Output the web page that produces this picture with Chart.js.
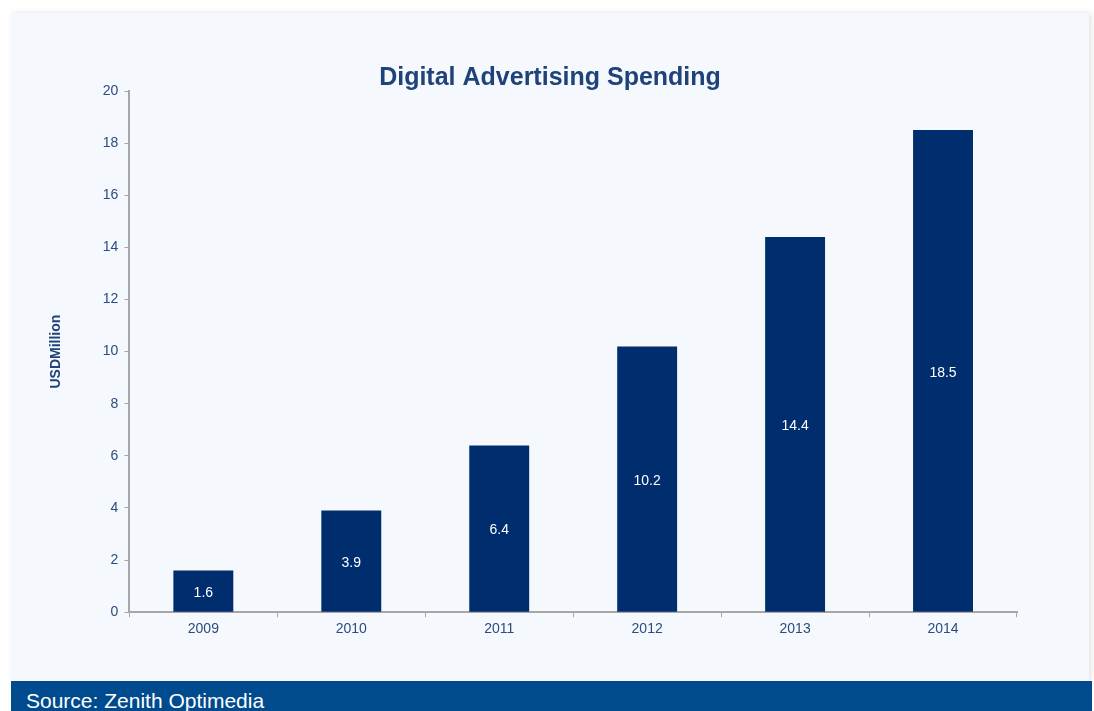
<!DOCTYPE html>
<html>
<head>
<meta charset="utf-8">
<script src="https://cdn.jsdelivr.net/npm/chart.js@4/dist/chart.umd.min.js"></script>
<style>
  html, body { margin: 0; padding: 0; background: #ffffff; width: 1094px; height: 711px; overflow: hidden; }
  #card {
    position: absolute; left: 11px; top: 13px; width: 1078px; height: 668px;
    background: #f5f9fd;
    box-shadow: 2px 0 6px rgba(0,0,0,0.12);
  }
  #footer {
    position: absolute; left: 11px; top: 681px; width: 1081px; height: 30px;
    background: #004b8d; color: #ffffff;
    font-family: "Liberation Sans", Arial, sans-serif; font-size: 21px;
    line-height: 40px; padding-left: 15px; box-sizing: border-box; overflow: hidden;
  }
  #chart { display: block; }
</style>
</head>
<body>
<div id="card"><canvas id="chart" width="1078" height="668"></canvas></div>
<div id="footer">Source: Zenith Optimedia</div>
<script>
// ============================
// Dados
// ============================
const anos = ["2009", "2010", "2011", "2012", "2013", "2014"];
const gastos = [1.6, 3.9, 6.4, 10.2, 14.4, 18.5];
const yTicks = [0, 2, 4, 6, 8, 10, 12, 14, 16, 18, 20];
const titulo = "Digital Advertising Spending";

const FONTE = "'Liberation Sans', Arial, Helvetica, sans-serif";
const AZUL_TEXTO = "#2c4b80";
const CINZA_EIXO = "#a6a6a6";

// título centralizado no cartão inteiro (não só na área do gráfico)
const tituloCentral = {
  id: "tituloCentral",
  afterDraw(chart) {
    const ctx = chart.ctx;
    ctx.save();
    ctx.fillStyle = "#1f4279";
    ctx.font = "bold 25px " + FONTE;
    ctx.textAlign = "center";
    ctx.textBaseline = "middle";
    ctx.fillText(titulo, chart.width / 2, 65);
    ctx.restore();
  }
};

// rótulos brancos no meio de cada barra
const rotulosBarras = {
  id: "rotulosBarras",
  afterDatasetsDraw(chart) {
    const ctx = chart.ctx;
    const meta = chart.getDatasetMeta(0);
    ctx.save();
    ctx.fillStyle = "#ffffff";
    ctx.font = "14px " + FONTE;
    ctx.textAlign = "center";
    ctx.textBaseline = "middle";
    meta.data.forEach((bar, i) => {
      const meio = (bar.y + bar.base) / 2;
      ctx.fillText(String(gastos[i]), bar.x, meio + 2);
    });
    ctx.restore();
  }
};

const ctx = document.getElementById("chart").getContext("2d");
new Chart(ctx, {
  type: "bar",
  data: {
    labels: anos,
    datasets: [{
      data: gastos,
      backgroundColor: "#002d6e",
      borderWidth: 0,
      categoryPercentage: 1.0,
      barPercentage: 0.405
    }]
  },
  options: {
    responsive: false,
    animation: false,
    layout: { padding: { left: 37, right: 72, top: 78, bottom: 39 } },
    plugins: {
      legend: { display: false },
      tooltip: { enabled: false },
      title: { display: false }
    },
    scales: {
      x: {
        offset: true,
        grid: {
          offset: true,
          drawOnChartArea: false,
          drawTicks: true,
          tickLength: 5,
          color: CINZA_EIXO
        },
        border: { color: CINZA_EIXO, width: 2 },
        ticks: { color: AZUL_TEXTO, font: { family: FONTE, size: 14 }, padding: 4 }
      },
      y: {
        min: 0,
        max: 20,
        afterBuildTicks: axis => { axis.ticks = yTicks.map(v => ({ value: v })); },
        grid: {
          drawOnChartArea: false,
          drawTicks: true,
          tickLength: 5,
          color: CINZA_EIXO
        },
        border: { color: CINZA_EIXO, width: 2 },
        title: {
          display: true,
          text: "USDMillion",
          color: "#1f4279",
          font: { family: FONTE, size: 14, weight: "bold" },
          padding: { top: 0, bottom: 32 }
        },
        ticks: { color: AZUL_TEXTO, font: { family: FONTE, size: 14 }, padding: 6 }
      }
    }
  },
  plugins: [rotulosBarras, tituloCentral]
});
</script>
</body>
</html>
